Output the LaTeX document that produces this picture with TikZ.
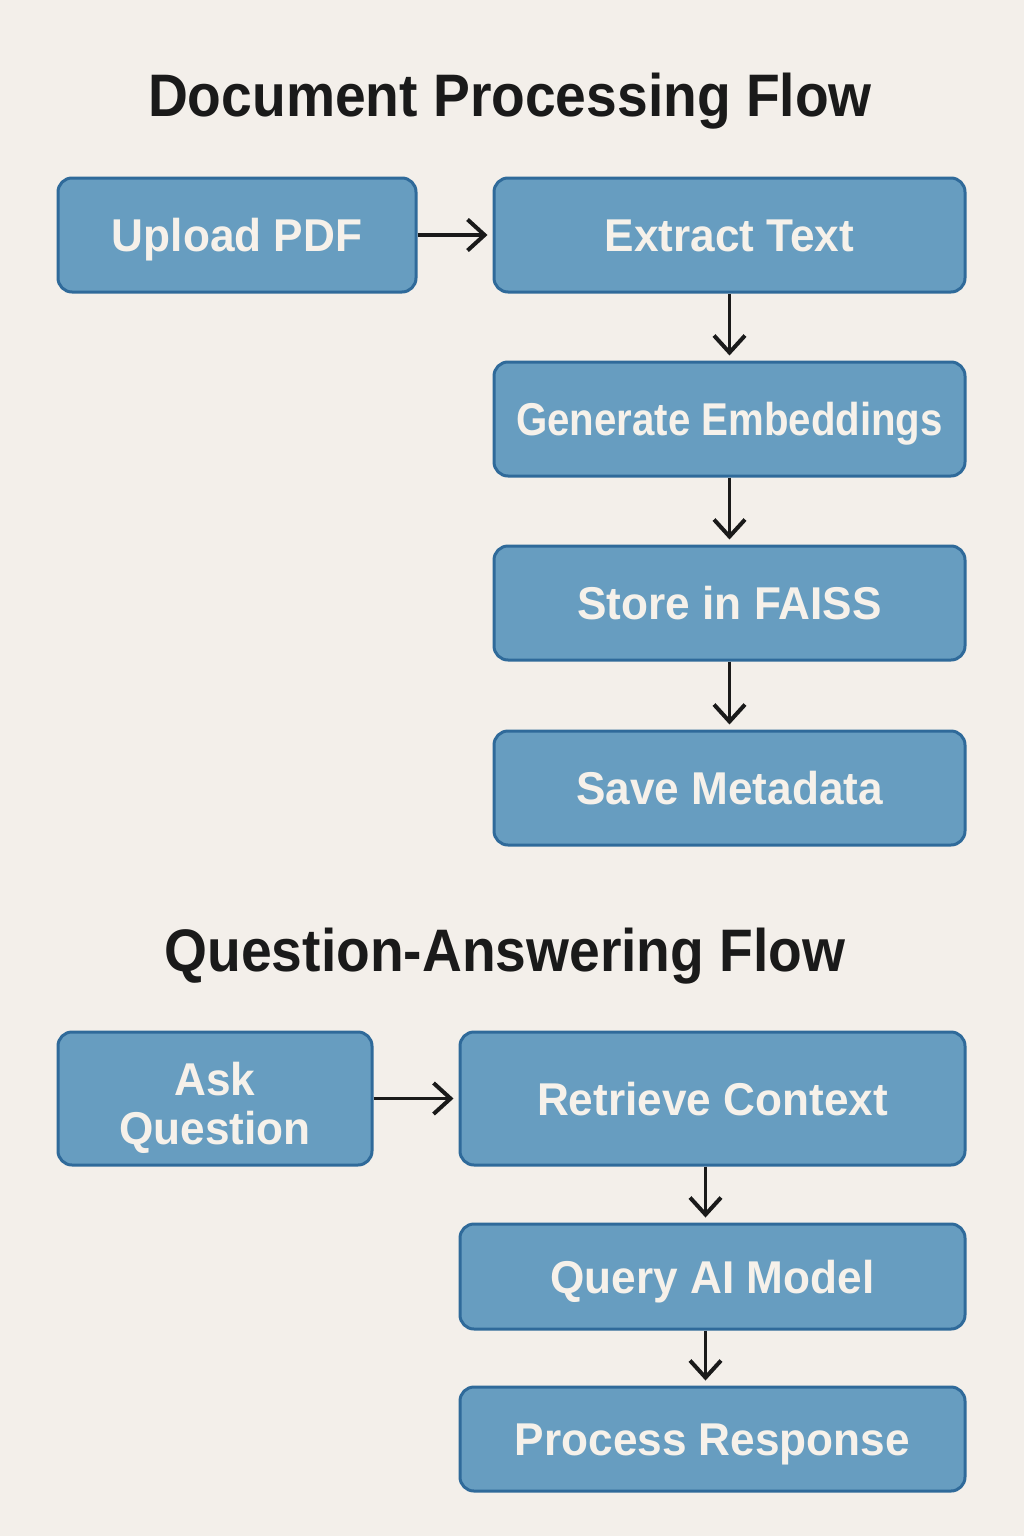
\documentclass[tikz,border=0pt]{standalone}
\usepackage{fontspec}
\setmainfont{Liberation Sans}
\newfontfamily\boxfont[FakeStretch=0.96]{Liberation Sans}
\newfontfamily\titlefont[FakeStretch=0.92]{Liberation Sans}
\usetikzlibrary{arrows.meta}
\definecolor{bgc}{HTML}{F3EFEA}
\definecolor{boxfill}{HTML}{679DC0}
\definecolor{boxdraw}{HTML}{2F6A9A}
\definecolor{boxtext}{HTML}{F6F1EA}
\definecolor{titlec}{HTML}{1A1A1A}
\tikzset{
  x=0.5pt, y=-0.5pt,
  flowbox/.style={draw=boxdraw, fill=boxfill, line width=1.5pt, rounded corners=7pt,
    text=boxtext, font=\boxfont\fontsize{23}{24}\selectfont\bfseries, align=center, inner sep=0pt},
  wide/.style={flowbox, minimum width=235.5pt, minimum height=57pt},
  oneline/.style={text height=16.5pt, text depth=0pt},
  flowtitle/.style={text=titlec, font=\titlefont\fontsize{30}{32}\selectfont\bfseries, inner sep=0pt, text height=21.5pt, text depth=0pt},
  flowarrow/.style={draw=titlec, line width=1.9pt, -{Straight Barb[length=8.5pt,width=15.5pt,line width=2pt]}, shorten >=2.5pt}
}
\begin{document}
\begin{tikzpicture}
\fill[bgc] (0,0) rectangle (1024,1536);
\useasboundingbox (0,0) rectangle (1024,1536);

\node[flowtitle] (t1) at (510,95) {Document Processing Flow};
\node[flowbox, oneline, minimum width=179pt, minimum height=57pt] (upload) at (237,235) {Upload PDF};
\node[wide, oneline] (extract) at (729.5,235) {Extract Text};
\node[wide, oneline] (embed) at (729.5,419) {\scalebox{0.91}[1]{Generate Embeddings}};
\node[wide, oneline] (store) at (729.5,603) {Store in FAISS};
\node[wide, oneline] (meta) at (729.5,788) {Save Metadata};

\draw[flowarrow] (upload.east) -- (extract.west);
\draw[flowarrow] (extract.south) -- (embed.north);
\draw[flowarrow] (embed.south) -- (store.north);
\draw[flowarrow] (store.south) -- (meta.north);

\node[flowtitle] (t2) at (505,950) {Question-Answering Flow};
\node[flowbox, minimum width=157pt, minimum height=66.5pt, text height=46pt, text depth=0pt,
  font=\boxfont\fontsize{23}{24.5}\selectfont\bfseries] (ask) at (215,1098.5) {Ask\\Question};
\node[flowbox, oneline, minimum width=252.5pt, minimum height=66.5pt] (retrieve) at (712.5,1098.5) {Retrieve Context};
\node[flowbox, oneline, minimum width=252.5pt, minimum height=52.5pt] (query) at (712.5,1276.5) {Query AI Model};
\node[flowbox, oneline, minimum width=252.5pt, minimum height=52pt] (process) at (712.5,1439) {Process Response};

\draw[flowarrow] (ask.east) -- (retrieve.west);
\draw[flowarrow] ([xshift=-3.5pt]retrieve.south) -- ([xshift=-3.5pt]query.north);
\draw[flowarrow] ([xshift=-3.5pt]query.south) -- ([xshift=-3.5pt]process.north);
\end{tikzpicture}
\end{document}
